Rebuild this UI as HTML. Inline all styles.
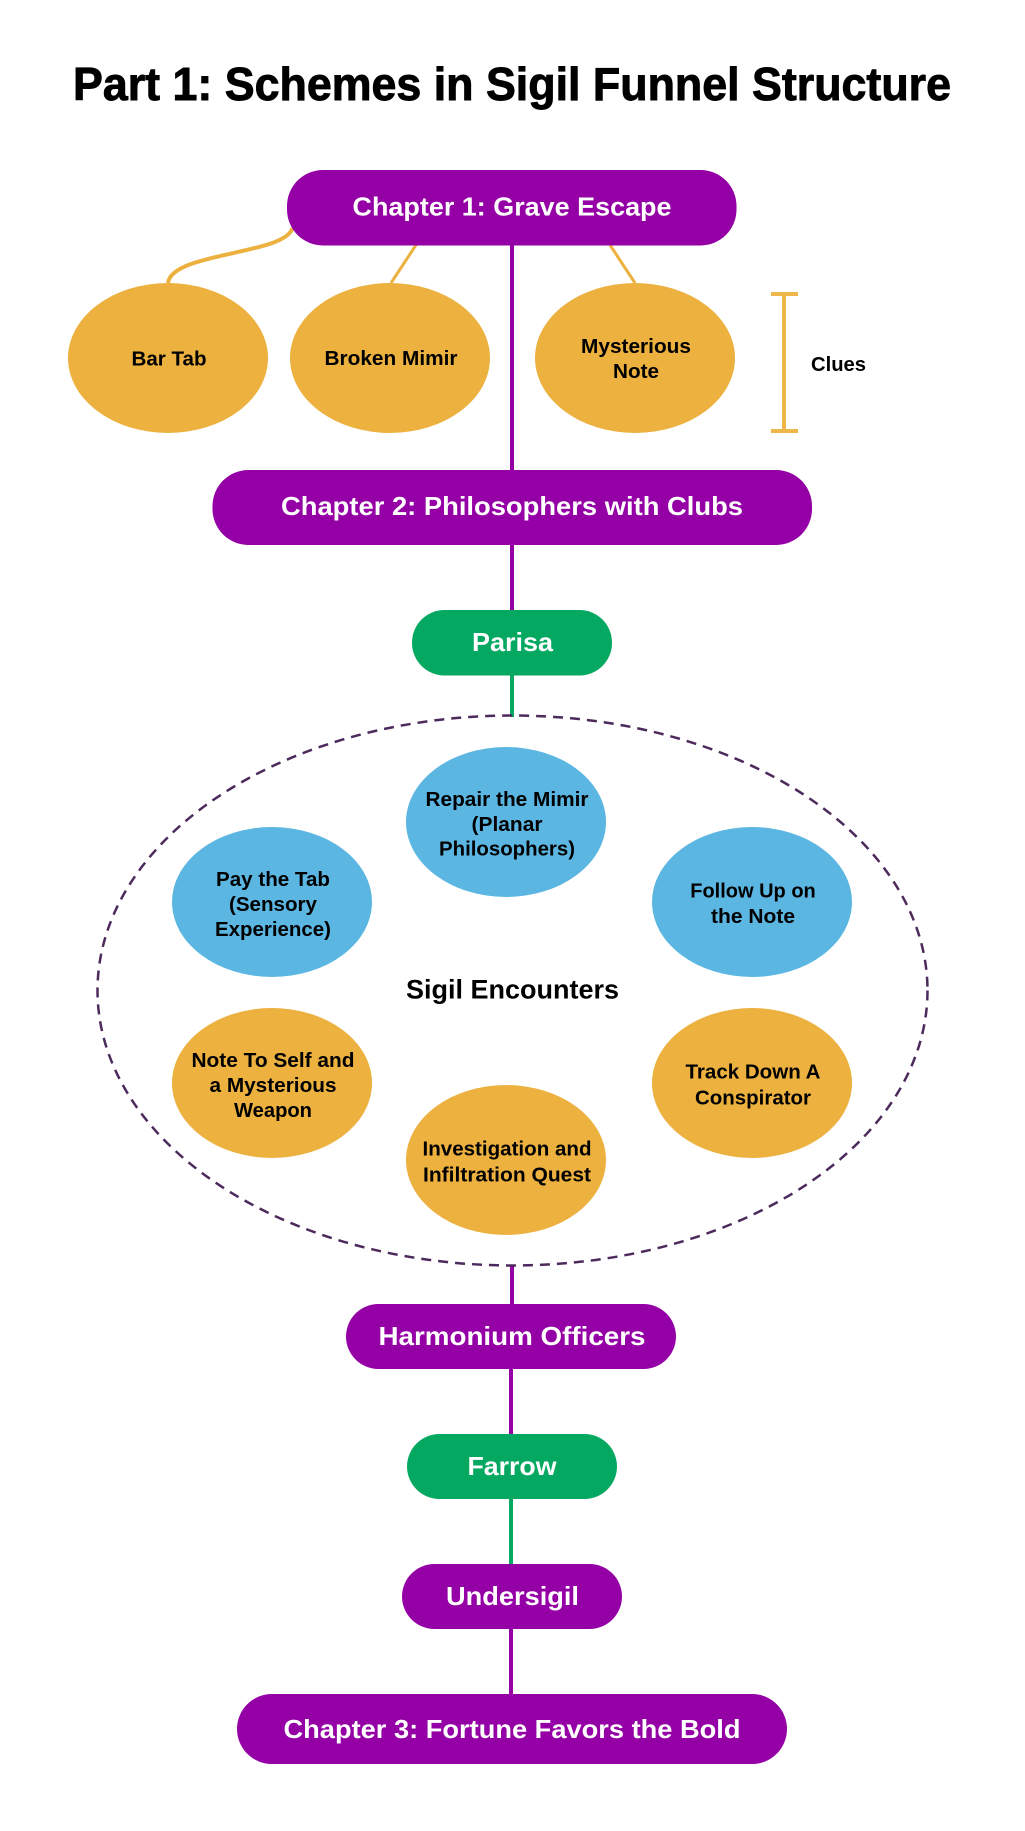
<!DOCTYPE html>
<html><head><meta charset="utf-8"><style>
html,body{margin:0;padding:0;background:#fff}
svg{display:block}
text{font-family:"Liberation Sans",Arial,sans-serif;font-weight:700;text-anchor:middle}
.w{fill:#fff;font-size:26px}
.k{fill:#000;font-size:20px}
</style></head><body>
<svg width="1025" height="1831" viewBox="0 0 1025 1831" xmlns="http://www.w3.org/2000/svg">
<rect width="1025" height="1831" fill="#fff"/>
<text x="512" y="100" font-size="46" fill="#000" stroke="#000" stroke-width="0.9" textLength="878" lengthAdjust="spacingAndGlyphs">Part 1: Schemes in Sigil Funnel Structure</text>

<g fill="none" stroke="#ecb13f">
<path d="M292.500 228 C285 255 172 252 168 283" stroke-width="4"/>
<path d="M416 245 L391 283" stroke-width="3"/>
<path d="M610 245 L635 283" stroke-width="3"/>
</g>
<g stroke="#efb74a" fill="none" stroke-width="4">
<path d="M784 294V431"/>
<path d="M771 294H798M771 431H798"/>
</g>

<g stroke="#9400a5" stroke-width="4">
<path d="M512 245V470"/><path d="M512 545V610"/>
<path d="M512 1266V1304"/><path d="M511 1369V1434"/><path d="M511 1629V1694"/>
</g>
<g stroke="#05a861" stroke-width="4">
<path d="M512 675V717"/><path d="M511 1499V1564"/>
</g>

<ellipse cx="512.500" cy="990.500" rx="415" ry="275" fill="none" stroke="#4d2a5c" stroke-width="2.500" stroke-dasharray="10 7"/>

<g fill="#9400a5">
<rect x="287" y="170" width="449.500" height="75.500" rx="36" ry="36"/>
<rect x="212.500" y="470" width="599.500" height="75" rx="36" ry="36"/>
<rect x="346" y="1304" width="330" height="65" rx="32.500" ry="32.500"/>
<rect x="402" y="1564" width="220" height="65" rx="32.500" ry="32.500"/>
<rect x="237" y="1694" width="550" height="70" rx="35" ry="35"/>
</g>
<g fill="#05a861">
<rect x="412" y="610" width="200" height="65.500" rx="32.500" ry="32.500"/>
<rect x="407" y="1434" width="210" height="65" rx="32.500" ry="32.500"/>
</g>

<g fill="#ecb13f">
<ellipse cx="168" cy="358" rx="100" ry="75"/>
<ellipse cx="390" cy="358" rx="100" ry="75"/>
<ellipse cx="635" cy="358" rx="100" ry="75"/>
<ellipse cx="272" cy="1083" rx="100" ry="75"/>
<ellipse cx="752" cy="1083" rx="100" ry="75"/>
<ellipse cx="506" cy="1160" rx="100" ry="75"/>
</g>
<g fill="#5bb6e2">
<ellipse cx="506" cy="822" rx="100" ry="75"/>
<ellipse cx="272" cy="902" rx="100" ry="75"/>
<ellipse cx="752" cy="902" rx="100" ry="75"/>
</g>

<text class="w" x="512" y="215.500" textLength="319" lengthAdjust="spacingAndGlyphs">Chapter 1: Grave Escape</text>
<text class="w" x="512" y="515" textLength="462" lengthAdjust="spacingAndGlyphs">Chapter 2: Philosophers with Clubs</text>
<text class="w" x="512.500" y="651" textLength="81" lengthAdjust="spacingAndGlyphs">Parisa</text>
<text class="w" x="512" y="1345" textLength="267" lengthAdjust="spacingAndGlyphs">Harmonium Officers</text>
<text class="w" x="512" y="1475" textLength="89" lengthAdjust="spacingAndGlyphs">Farrow</text>
<text class="w" x="512.500" y="1605" textLength="133" lengthAdjust="spacingAndGlyphs">Undersigil</text>
<text class="w" x="512" y="1738" textLength="457" lengthAdjust="spacingAndGlyphs">Chapter 3: Fortune Favors the Bold</text>

<text x="512.500" y="998.500" font-size="27" fill="#000" textLength="213" lengthAdjust="spacingAndGlyphs">Sigil Encounters</text>
<text class="k" x="838.500" y="371" textLength="55" lengthAdjust="spacingAndGlyphs">Clues</text>

<text class="k" x="169" y="365.500" textLength="75" lengthAdjust="spacingAndGlyphs">Bar Tab</text>
<text class="k" x="391" y="365" textLength="133" lengthAdjust="spacingAndGlyphs">Broken Mimir</text>
<text class="k" x="636" y="353" textLength="110" lengthAdjust="spacingAndGlyphs">Mysterious</text>
<text class="k" x="636" y="378" textLength="46" lengthAdjust="spacingAndGlyphs">Note</text>

<text class="k" x="507" y="806" textLength="163" lengthAdjust="spacingAndGlyphs">Repair the Mimir</text>
<text class="k" x="507" y="831" textLength="71" lengthAdjust="spacingAndGlyphs">(Planar</text>
<text class="k" x="507" y="855.500" textLength="136" lengthAdjust="spacingAndGlyphs">Philosophers)</text>

<text class="k" x="273" y="886" textLength="114" lengthAdjust="spacingAndGlyphs">Pay the Tab</text>
<text class="k" x="273" y="911" textLength="88" lengthAdjust="spacingAndGlyphs">(Sensory</text>
<text class="k" x="273" y="936" textLength="116" lengthAdjust="spacingAndGlyphs">Experience)</text>

<text class="k" x="753" y="897.500" textLength="125.500" lengthAdjust="spacingAndGlyphs">Follow Up on</text>
<text class="k" x="753" y="923" textLength="84" lengthAdjust="spacingAndGlyphs">the Note</text>

<text class="k" x="273" y="1067" textLength="163" lengthAdjust="spacingAndGlyphs">Note To Self and</text>
<text class="k" x="273" y="1092" textLength="127" lengthAdjust="spacingAndGlyphs">a Mysterious</text>
<text class="k" x="273" y="1117" textLength="78" lengthAdjust="spacingAndGlyphs">Weapon</text>

<text class="k" x="753" y="1078.500" textLength="135" lengthAdjust="spacingAndGlyphs">Track Down A</text>
<text class="k" x="753" y="1104.500" textLength="116" lengthAdjust="spacingAndGlyphs">Conspirator</text>

<text class="k" x="507" y="1155.500" textLength="169" lengthAdjust="spacingAndGlyphs">Investigation and</text>
<text class="k" x="507" y="1181.500" textLength="168" lengthAdjust="spacingAndGlyphs">Infiltration Quest</text>
</svg>
</body></html>
